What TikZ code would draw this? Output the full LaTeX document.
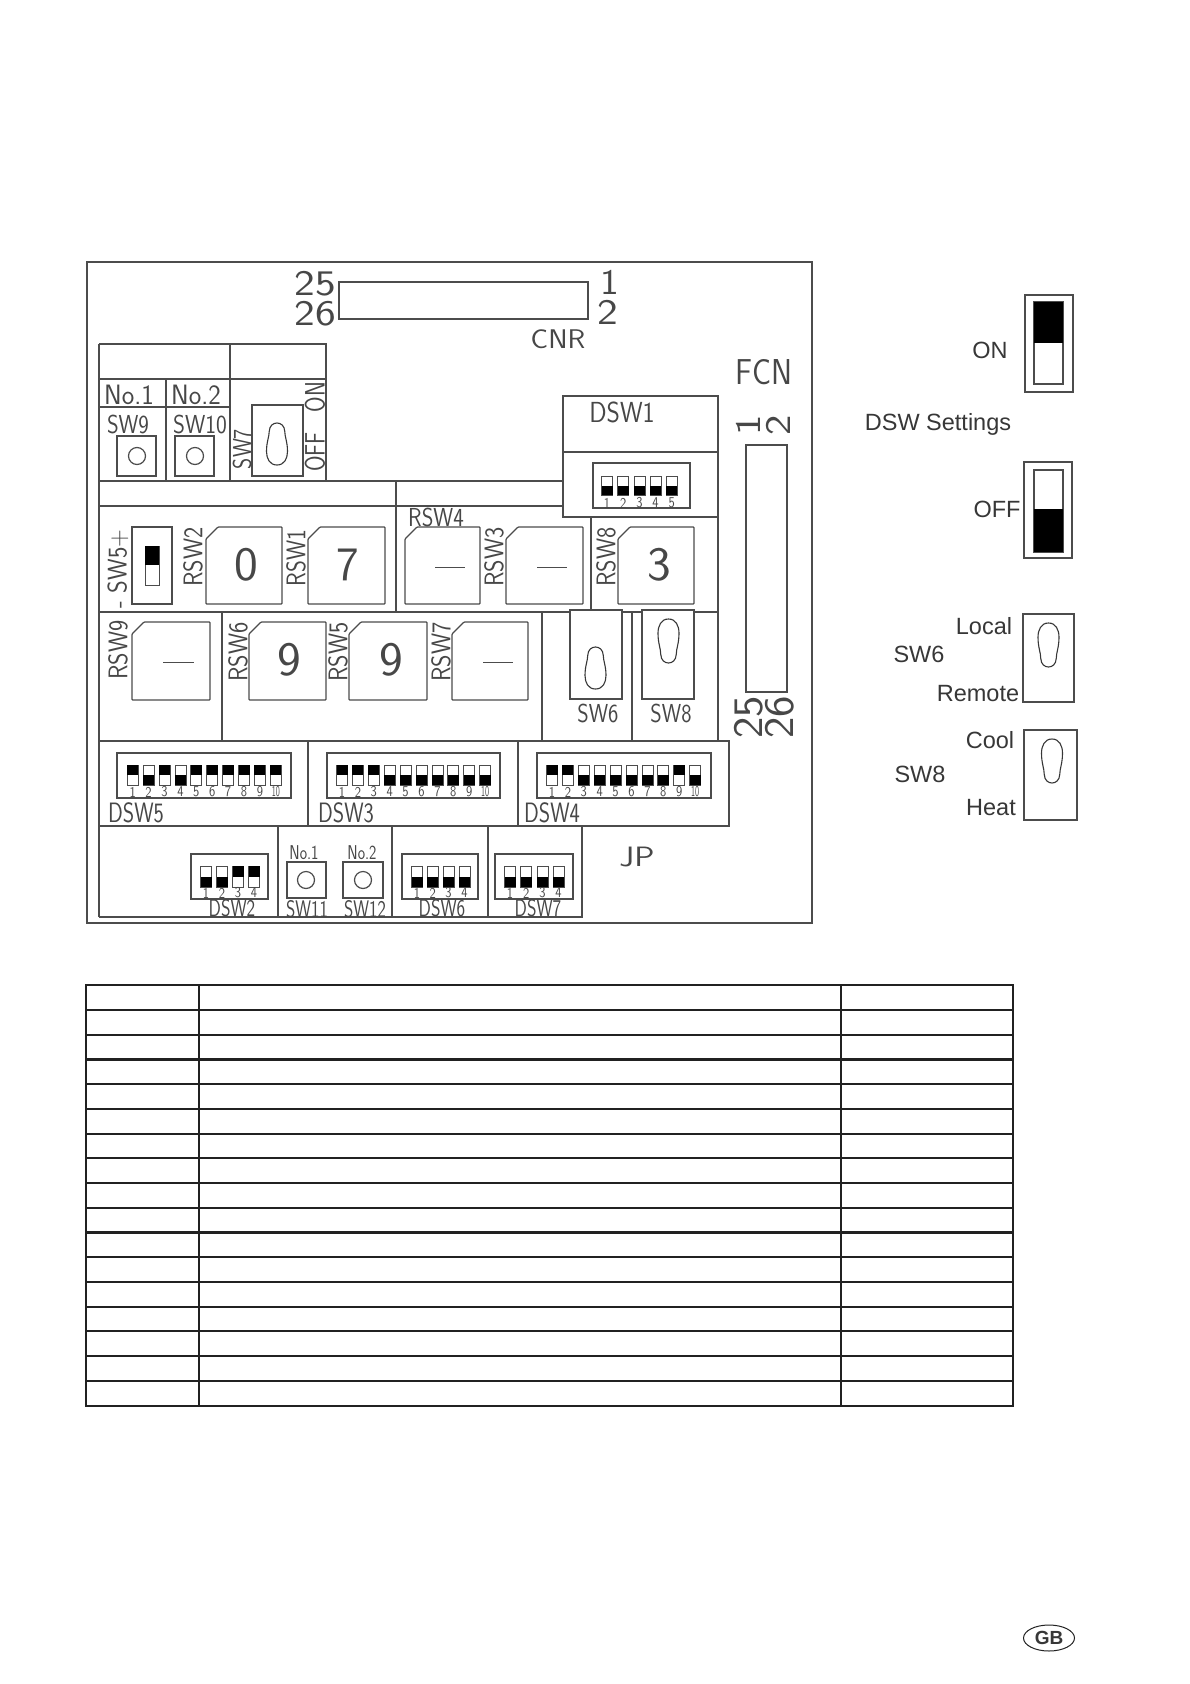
\documentclass[tikz,border=0pt]{standalone}
\usepackage{fontspec}
\setmainfont{Liberation Sans}
\usetikzlibrary{calc}
\definecolor{ln}{gray}{0.30}
\definecolor{tx}{gray}{0.28}
\definecolor{tb}{gray}{0.13}
\tikzset{
  wire/.style={draw=ln,line width=1.2pt},
  thin wire/.style={draw=ln,line width=0.9pt},
  cadtext/.style={inner sep=0pt,text=tx,font=\sffamily},
  lbltext/.style={inner sep=0pt,text=tb!90!white},
  tablerule/.style={draw=tb,line width=1.7pt},
  tablethick/.style={draw=tb,line width=2.6pt}
}
% text in the thin drawing font: name, x, y, height in px of the font, xscale, rotation, text
\newcommand{\CadT}[7]{\node[cadtext,rotate=#6,xscale=#5] (#1) at (#2,#3) {\fontsize{#4}{#4}\selectfont #7};}
% rotary switch: left, right, top, bottom
\newcommand{\RotBox}[4]{\draw[wire,rounded corners=0.8pt] (#1+12,#3) -- (#2,#3) -- (#2,#4) -- (#1,#4) -- (#1,#3+12) -- cycle;}
% slot: cx, cy, half width, half height (negative = wide end at the bottom)
\newcommand{\SlotS}[4]{\begin{scope}[shift={(#1,#2)},xscale=#3,yscale=#4]
 \draw[draw=tb!90,line width=1.1pt] (0,-1) .. controls (0.7,-1) and (1,-0.7) .. (1,-0.35) .. controls (1,0.1) and (0.74,0.35) .. (0.74,0.6) .. controls (0.72,0.88) and (0.35,1) .. (0,1) .. controls (-0.35,1) and (-0.72,0.88) .. (-0.74,0.6) .. controls (-0.74,0.35) and (-1,0.1) .. (-1,-0.35) .. controls (-1,-0.7) and (-0.7,-1) .. (0,-1) -- cycle;
\end{scope}}
% dip row: first centre, pitch, top, bottom, number y, states (1 = black on top)
\newcommand{\DipRow}[6]{\foreach \st [count=\nn] in {#6}{
  \pgfmathsetmacro{\cx}{#1+(\nn-1)*#2}
  \pgfmathsetmacro{\my}{(#3+#4)/2}
  \draw[draw=ln,line width=0.8pt,fill=white] (\cx-5.5,#3) rectangle (\cx+5.5,#4);
  \ifnum\st=1 \fill[black] (\cx-5.5,#3) rectangle (\cx+5.5,\my);
  \else \fill[black] (\cx-5.5,\my) rectangle (\cx+5.5,#4); \fi
  \ifnum\nn=10
    \node[cadtext,xscale=0.55] at (\cx,#5) {\fontsize{15}{15}\selectfont 10};
  \else
    \node[cadtext,xscale=0.85] at (\cx,#5) {\fontsize{15}{15}\selectfont \nn};
  \fi
}}
\begin{document}
\begin{tikzpicture}[x=1pt,y=-1pt]
\useasboundingbox (0,0) rectangle (1190,1684);
\fill[white] (0,0) rectangle (1190,1684);

% ---- panel
\draw[wire,line width=1.5pt] (87,262) rectangle (812,923);
% CNR
\draw[wire] (339,282) rectangle (588,319);
\CadT{c25}{315}{284}{36}{1.22}{0}{25}
\CadT{c26}{315}{314}{36}{1.22}{0}{26}
\CadT{c1}{610}{282}{36}{1.1}{0}{1}
\CadT{c2}{608}{312}{36}{1.22}{0}{2}
\CadT{cnr}{558}{339}{27}{1.08}{0}{CNR}
% FCN
\draw[wire] (746,445) rectangle (787,692);
\CadT{fcn}{764}{372}{36}{0.88}{0}{FCN}
\CadT{f1}{748}{425}{36}{1.2}{90}{1}
\CadT{f2}{778}{425}{36}{1.2}{90}{2}
\CadT{f25}{749}{717}{42}{1.08}{90}{25}
\CadT{f26}{780}{717}{42}{1.08}{90}{26}

% top-left block
\draw[wire] (99,344) -- (326,344) -- (326,481);
\draw[wire] (99,344) -- (99,917);
\draw[wire] (99,379) -- (326,379);
\draw[wire] (230,344) -- (230,481);
\draw[wire] (99,407) -- (230,407);
\draw[wire] (166,379) -- (166,481);
\draw[wire] (99,481) -- (563,481);
\draw[wire] (99,506) -- (563,506);
\draw[wire] (396,481) -- (396,612);
\CadT{no1}{129}{395}{28}{0.95}{0}{No.1}
\CadT{no2}{196}{395}{28}{0.95}{0}{No.2}
\CadT{sw9}{128}{424}{26}{0.86}{0}{SW9}
\CadT{sw10}{200}{424}{26}{0.88}{0}{SW10}
\draw[wire] (117,436) rectangle (156,476);
\draw[wire] (137,456) circle (8.5);
\draw[wire] (175,436) rectangle (214,476);
\draw[wire] (195,456) circle (8.5);
\draw[wire] (252,405) rectangle (303,476);
\SlotS{277}{444}{10.5}{-21}
\CadT{sw7}{242}{449}{26}{0.82}{90}{SW7}
\CadT{off}{315}{452}{28}{0.8}{90}{OFF}
\CadT{on}{315}{397}{28}{0.8}{90}{ON}

% DSW1
\draw[wire] (563,396) rectangle (718,517);
\draw[wire] (563,452) -- (718,452);
\CadT{dsw1}{622}{412}{29}{0.88}{0}{DSW1}
\draw[wire] (593,463) rectangle (690,508);
\DipRow{607}{16.2}{476}{495}{503}{0,0,0,0,0}

% rows
\draw[wire] (99,612) -- (718,612);
\draw[wire] (591,517) -- (591,612);
\draw[wire] (718,517) -- (718,741);
\draw[wire] (222,612) -- (222,741);
\draw[wire] (542,612) -- (542,741);
\draw[wire] (632,612) -- (632,741);

% SW5
\draw[wire] (132,527) rectangle (172,604);
\draw[draw=ln,line width=0.8pt] (145,546) rectangle (159,585);
\fill[black] (145,546) rectangle (159,565);
\CadT{sw5}{118}{569}{27}{0.9}{90}{- SW5+}

% rotary row 1
\RotBox{206}{282}{527}{604}
\RotBox{308}{385}{527}{604}
\RotBox{405}{480}{527}{604}
\RotBox{506}{583}{527}{604}
\RotBox{618}{694}{527}{604}
\CadT{rsw2}{193}{557}{27}{0.88}{90}{RSW2}
\CadT{rsw1}{296}{558}{27}{0.84}{90}{RSW1}
\CadT{rsw4}{436}{517}{26}{0.86}{0}{RSW4}
\CadT{rsw3}{494}{557}{27}{0.88}{90}{RSW3}
\CadT{rsw8}{606}{557}{27}{0.88}{90}{RSW8}
\CadT{d0}{246.5}{565}{48}{1.05}{0}{0}
\CadT{d7}{348}{565}{48}{1.0}{0}{7}
\CadT{d3}{659}{565}{48}{1.05}{0}{3}
\draw[thin wire] (435,567) -- (465,567);
\draw[thin wire] (537,567) -- (567,567);

% rotary row 2
\RotBox{132}{210}{622}{700}
\RotBox{249}{326}{622}{700}
\RotBox{349}{427}{622}{700}
\RotBox{452}{528}{622}{700}
\CadT{rsw9}{118}{650}{27}{0.88}{90}{RSW9}
\CadT{rsw6}{238}{652}{27}{0.88}{90}{RSW6}
\CadT{rsw5}{338}{652}{27}{0.88}{90}{RSW5}
\CadT{rsw7}{441}{652}{27}{0.88}{90}{RSW7}
\CadT{d9a}{289}{660}{48}{1.05}{0}{9}
\CadT{d9b}{391}{660}{48}{1.05}{0}{9}
\draw[thin wire] (163,662) -- (194,662);
\draw[thin wire] (483,662) -- (513,662);

% SW6 / SW8
\draw[wire,fill=white] (570,610) rectangle (622,699);
\draw[wire,fill=white] (642,610) rectangle (694,699);
\SlotS{595.5}{668}{10.5}{-21}
\SlotS{668.5}{641}{10.5}{22}
\CadT{sw6}{598}{713}{26}{0.84}{0}{SW6}
\CadT{sw8}{671}{713}{26}{0.84}{0}{SW8}

% DSW row
\draw[wire] (99,741) -- (729,741) -- (729,826) -- (99,826);
\draw[wire] (308,741) -- (308,826);
\draw[wire] (518,741) -- (518,826);
\draw[wire] (117,753) rectangle (291,798);
\draw[wire] (327,753) rectangle (500,798);
\draw[wire] (537,753) rectangle (711,798);
\DipRow{132.7}{15.9}{765}{785}{792}{1,0,1,0,1,1,1,1,1,1}
\DipRow{342}{15.9}{765}{785}{792}{1,1,1,0,0,0,0,0,0,0}
\DipRow{552}{15.9}{765}{785}{792}{1,1,0,0,0,0,0,0,1,0}
\CadT{dsw5}{136}{813}{28}{0.78}{0}{DSW5}
\CadT{dsw3}{346}{813}{28}{0.78}{0}{DSW3}
\CadT{dsw4}{552}{813}{28}{0.78}{0}{DSW4}

% bottom row
\draw[wire] (99,917) -- (582,917) -- (582,826);
\draw[wire] (278,826) -- (278,917);
\draw[wire] (392,826) -- (392,917);
\draw[wire] (488,826) -- (488,917);
\draw[wire] (191,854) rectangle (268,899);
\DipRow{206}{16}{866}{887}{893}{0,0,1,1}
\draw[wire] (287,862) rectangle (326,898);
\draw[wire] (306,880) circle (8.5);
\draw[wire] (343,862) rectangle (383,898);
\draw[wire] (363,880) circle (8.5);
\draw[wire] (402,854) rectangle (478,899);
\DipRow{417}{15.8}{866}{887}{893}{0,0,0,0}
\draw[wire] (495,854) rectangle (573,899);
\DipRow{510}{16.2}{866}{887}{893}{0,0,0,0}
\CadT{dsw2}{232}{908}{24}{0.76}{0}{DSW2}
\CadT{sw11}{307}{909}{24}{0.74}{0}{SW11}
\CadT{sw12}{365}{909}{24}{0.74}{0}{SW12}
\CadT{dsw6}{442}{908}{24}{0.76}{0}{DSW6}
\CadT{dsw7}{538}{908}{24}{0.76}{0}{DSW7}
\CadT{no3}{304}{853}{20}{0.78}{0}{No.1}
\CadT{no4}{362}{853}{20}{0.78}{0}{No.2}
\CadT{jp}{637}{857}{28}{1.2}{0}{JP}

% ---- right-hand legend
\draw[wire] (1025,295) rectangle (1073,392);
\draw[draw=ln,line width=1.3pt] (1034,302) rectangle (1063,384);
\fill[black] (1034,302) rectangle (1063,343);
\draw[wire] (1024,462) rectangle (1072,558);
\draw[draw=ln,line width=1.3pt] (1034,470) rectangle (1063,552);
\fill[black] (1034,509) rectangle (1063,552);
\draw[wire] (1023,614) rectangle (1074,702);
\SlotS{1048.5}{645}{10.5}{22}
\draw[wire] (1024,730) rectangle (1077,820);
\SlotS{1052}{761}{10.5}{22}
\tikzset{lg/.style={lbltext,font=\fontsize{23.5}{23.5}\selectfont}}
\node[lg] (lon) at (990,350) {ON};
\node[lg] (lset) at (938,424) {DSW Settings};
\node[lg] (loff) at (997,509) {OFF};
\node[lg] (llocal) at (984,626) {Local};
\node[lg] (lsw6) at (919,654) {SW6};
\node[lg] (lrem) at (978,694) {Remote};
\node[lg] (lcool) at (990,740) {Cool};
\node[lg] (lsw8) at (920,774) {SW8};
\node[lg] (lheat) at (991,808) {Heat};

% ---- empty table
\draw[tablerule] (86,985) rectangle (1013,1406);
\draw[tablerule] (199,985) -- (199,1406);
\draw[tablerule] (841,985) -- (841,1406);
\foreach \yy in {1010,1035,1084,1109,1134,1158,1183,1208,1257,1282,1307,1331,1356,1381}
  \draw[tablerule] (86,\yy) -- (1013,\yy);
\foreach \yy in {1059.5,1232.5}
  \draw[tablethick] (86,\yy) -- (1013,\yy);

% ---- GB badge
\draw[draw=tb,line width=1pt] (1049,1638) ellipse (25.5 and 13);
\node[lbltext,font=\bfseries\fontsize{19}{19}\selectfont] (gb) at (1049,1638) {GB};
\end{tikzpicture}
\end{document}
